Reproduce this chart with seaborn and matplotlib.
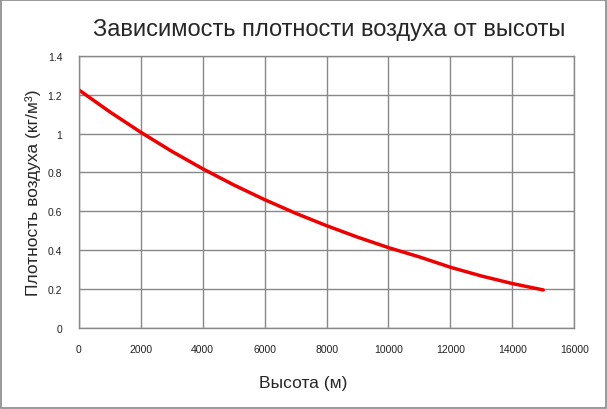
import pandas as pd
import matplotlib.pyplot as plt
import seaborn as sns

# Height (m) and air density (kg/m3)
altitude = [0, 1000, 2000, 3000, 4000, 5000, 6000, 7000, 8000, 9000,
            10000, 11000, 12000, 13000, 14000, 15000]
density = [1.225, 1.112, 1.007, 0.909, 0.819, 0.736, 0.660, 0.590, 0.526, 0.467,
           0.413, 0.365, 0.312, 0.267, 0.228, 0.195]

x_ticks = [0, 2000, 4000, 6000, 8000, 10000, 12000, 14000, 16000]
y_ticks = [0, 0.2, 0.4, 0.6, 0.8, 1, 1.2, 1.4]
y_labels = ['0', '0.2', '0.4', '0.6', '0.8', '1', '1.2', '1.4']

df = pd.DataFrame({'Высота': altitude, 'Плотность': density})

sns.set_style('white')
plt.rcParams['font.family'] = ['Liberation Sans', 'DejaVu Sans']

fig = plt.figure(figsize=(6.07, 4.10), dpi=100)
ax = fig.add_axes([0.130, 0.198, 0.816, 0.663])

sns.lineplot(data=df, x='Высота', y='Плотность', color='#ee0000', linewidth=2.5, ax=ax)

ax.set_xlim(0, 16000)
ax.set_ylim(0, 1.4)
ax.set_xticks(x_ticks)
ax.set_yticks(y_ticks)
ax.set_yticklabels(y_labels)
ax.grid(True, color='#888888', linewidth=1)
ax.tick_params(length=0, labelsize=7.5, labelcolor='#222222', pad=12)
for s in ax.spines.values():
    s.set_color('#888888')
    s.set_linewidth(1)

ax.set_xlabel('Высота (м)', fontsize=12.5, labelpad=14)
ax.xaxis.set_label_coords(0.453, -0.175)
ax.set_ylabel('Плотность воздуха (кг/м³)', fontsize=12.5, labelpad=5)
fig.text(0.542, 0.927, 'Зависимость плотности воздуха от высоты', fontsize=17,
         ha='center', va='center')

# figure frame
fig.patches.append(plt.Rectangle((0.002, 0.003), 0.996, 0.994, transform=fig.transFigure,
                                 fill=False, edgecolor='#888888', linewidth=1.2))

fig.savefig('out.png', dpi=100)
